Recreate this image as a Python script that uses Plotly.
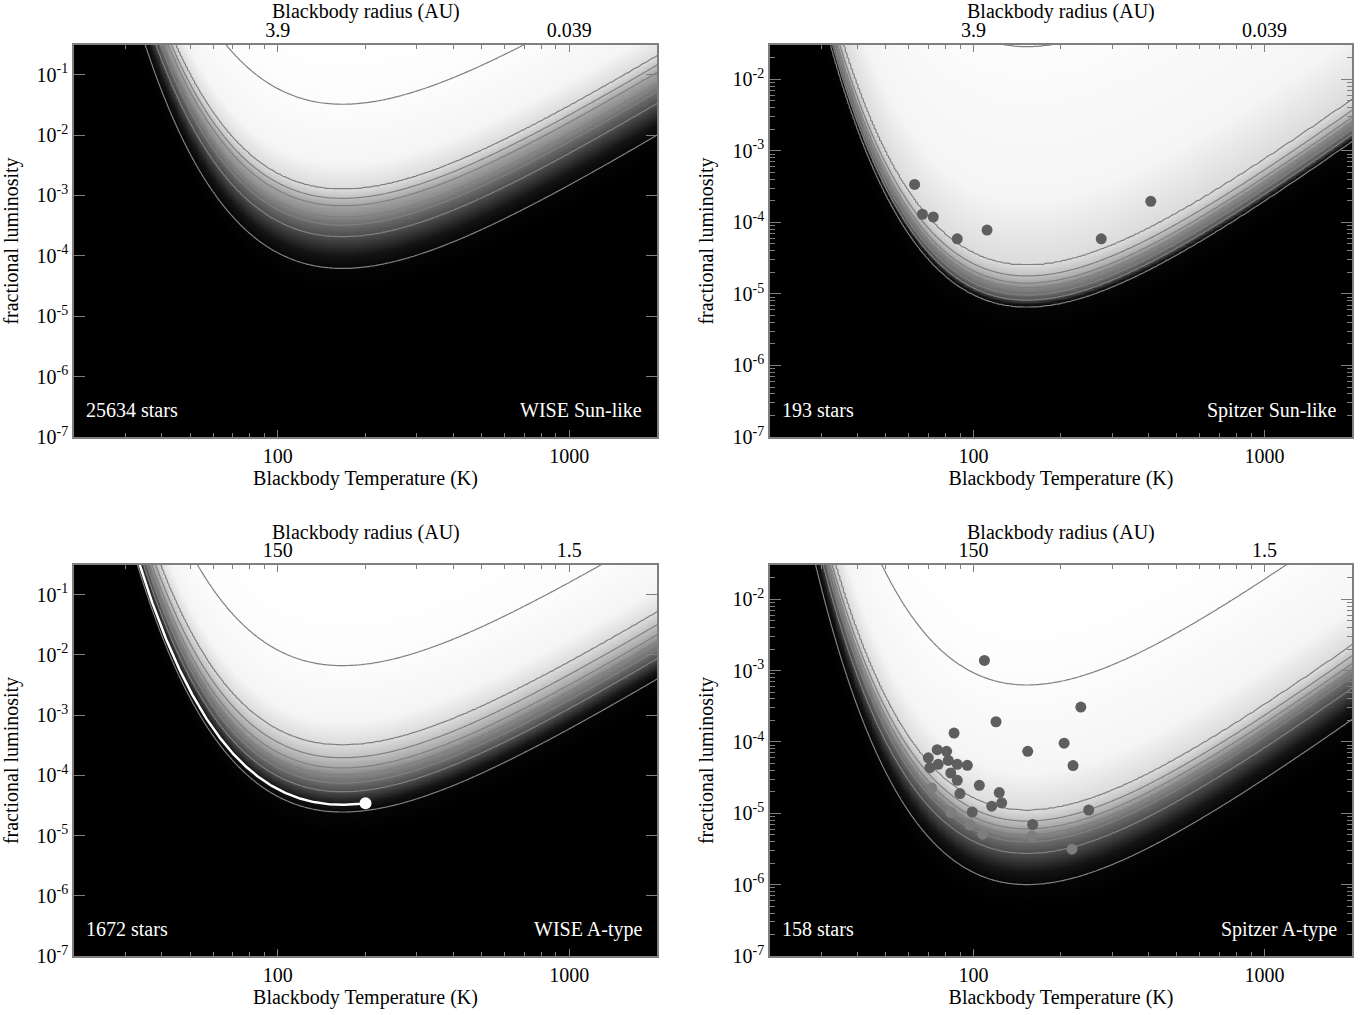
import numpy as np
import plotly.graph_objects as go

# ---------------- data ----------------
panel_titles = ['WISE Sun-like', 'Spitzer Sun-like', 'WISE A-type', 'Spitzer A-type']
star_counts = [25634, 193, 1672, 158]
radius_ticktext = [['3.9', '0.039'], ['3.9', '0.039'], ['150', '1.5'], ['150', '1.5']]
temp_tick_vals = [100, 1000]
temp_tick_text = ['100', '1000']
temp_range_K = [20, 2000]
logf_top = [-0.51, -1.52, -0.51, -1.52]
logf_bottom = -7.0

# temperature (K) at the minimum of the sensitivity curves of each panel
curve_min_T = [167, 153, 167, 153]

# common shape of the sensitivity curves: decades above the minimum,
# as a function of log10(T / T_min)
shape_logr = [-1.0, -0.9, -0.8, -0.75, -0.7, -0.65, -0.6, -0.55, -0.5, -0.45, -0.4,
              -0.35, -0.3, -0.2, -0.1, 0.0, 0.1, 0.2, 0.3, 0.4, 0.5, 0.6, 0.7, 0.8,
              0.9, 1.0, 1.1, 1.2]
shape_dex = [11.333, 8.231, 5.850, 4.881, 4.040, 3.312, 2.685, 2.147, 1.690, 1.305, 0.983,
             0.718, 0.503, 0.204, 0.046, 0.000, 0.039, 0.142, 0.294, 0.481, 0.696, 0.931,
             1.180, 1.441, 1.711, 1.987, 2.269, 2.554]

# log10 fractional luminosity at the minimum of each contour line (low -> high)
contour_min_wise_sun = [-4.21, -3.68, -3.49, -3.36, -3.17, -3.05, -2.90, -1.49]
contour_min_spitzer_sun = [-5.18, -5.085, -5.015, -4.91, -4.85, -4.75, -4.60, -1.54]
contour_min_wise_a = [-4.61, -4.27, -4.13, -3.99, -3.88, -3.71, -3.50, -2.18]
contour_min_spitzer_a = [-6.00, -5.56, -5.40, -5.30, -5.22, -5.11, -4.96, -3.20]
contour_minima = [contour_min_wise_sun, contour_min_spitzer_sun,
                  contour_min_wise_a, contour_min_spitzer_a]

# grey level of the background at each contour line (index -1 .. 8)
grey_index = [-1, 0, 0.4, 1, 2, 3, 4, 5, 6, 6.3, 7, 8]
grey_level = [0.0, 0.02, 0.08, 0.30, 0.42, 0.53, 0.64, 0.75, 0.86, 0.96, 0.99, 1.0]

# detected discs, Spitzer Sun-like
sp_sun_T = [62.8, 66.8, 72.8, 88.0, 111.4, 275, 407]
sp_sun_f = [3.4e-4, 1.30e-4, 1.19e-4, 5.9e-5, 7.8e-5, 5.9e-5, 1.97e-4]

# detected discs, Spitzer A-type (dark markers)
sp_a_T = [109.1, 234, 119.6, 85.8, 205, 153.7, 220, 75.1, 80.9, 70.0, 75.7, 70.9, 82.0,
          88.0, 95.3, 83.6, 88.0, 104.8, 89.9, 122.7, 125.1, 115.6, 99.1, 249, 159.8]
sp_a_f = [1.39e-3, 3.08e-4, 1.92e-4, 1.33e-4, 9.6e-5, 7.4e-5, 4.66e-5, 7.8e-5, 7.4e-5,
          6.0e-5, 4.86e-5, 4.36e-5, 5.5e-5, 4.86e-5, 4.7e-5, 3.67e-5, 2.9e-5, 2.47e-5,
          1.89e-5, 1.95e-5, 1.40e-5, 1.26e-5, 1.04e-5, 1.11e-5, 6.97e-6]
# Spitzer A-type (light markers)
sp_a_light_T = [71.9, 83.6, 97.3, 107.6, 159, 218]
sp_a_light_f = [2.26e-5, 1.03e-5, 6.9e-6, 5.1e-6, 4.8e-6, 3.14e-6]

# single-star sensitivity curve in the WISE A-type panel
white_curve_min_logf = -4.49
white_curve_end_T = 200

# ---------------- styling ----------------
FONT = 'Liberation Serif'
AXC = '#7f7f7f'
LINEC = '#808080'
xdom = [[0, 0.4562], [0.5446, 1], [0, 0.4562], [0.5446, 1]]
ydom = [[0.5697, 1], [0.5697, 1], [0, 0.4292], [0, 0.4292]]
radius_title_y = [1.0373, 1.0373, 0.4654, 0.4654]
y_minor = [False, True, False, True]


def natural_cubic(xk, yk, xq):
    xk = np.asarray(xk, float)
    yk = np.asarray(yk, float)
    n = len(xk)
    h = np.diff(xk)
    A = np.zeros((n, n))
    rhs = np.zeros(n)
    A[0, 0] = 1
    A[-1, -1] = 1
    for i in range(1, n - 1):
        A[i, i - 1] = h[i - 1]
        A[i, i] = 2 * (h[i - 1] + h[i])
        A[i, i + 1] = h[i]
        rhs[i] = 6 * ((yk[i + 1] - yk[i]) / h[i] - (yk[i] - yk[i - 1]) / h[i - 1])
    M = np.linalg.solve(A, rhs)
    xq = np.clip(np.asarray(xq, float), xk[0], xk[-1])
    idx = np.clip(np.searchsorted(xk, xq) - 1, 0, n - 2)
    x0 = xk[idx]
    x1 = xk[idx + 1]
    hh = x1 - x0
    t0 = x1 - xq
    t1 = xq - x0
    return (M[idx] * t0 ** 3 / (6 * hh) + M[idx + 1] * t1 ** 3 / (6 * hh)
            + (yk[idx] / hh - M[idx] * hh / 6) * t0
            + (yk[idx + 1] / hh - M[idx + 1] * hh / 6) * t1)


def grey_hex(v):
    c = int(round(255 * v))
    return '#%02x%02x%02x' % (c, c, c)


zmin, zmax = grey_index[0], grey_index[-1]
colorscale = [[(gi - zmin) / (zmax - zmin), grey_hex(gv)] for gi, gv in zip(grey_index, grey_level)]

fig = go.Figure()
layout = {}

logT_grid = np.linspace(np.log10(temp_range_K[0]) - 0.02, np.log10(temp_range_K[1]) + 0.02, 330)
x_minor_vals = [v * 10 ** e for e in (1, 2, 3) for v in range(2, 10) if 20 <= v * 10 ** e <= 2000]

for i in range(4):
    sx = '' if i == 0 else str(i + 1)
    levels = contour_minima[i]
    logf_grid = np.linspace(logf_bottom - 0.05, logf_top[i] + 0.05, 300)
    shape = natural_cubic(shape_logr, shape_dex, logT_grid - np.log10(curve_min_T[i]))
    u = logf_grid[:, None] - shape[None, :]
    knots_u = [levels[0] - 0.35] + list(levels) + [levels[-1] + 1.2]
    knots_z = list(range(-1, len(levels) + 1))
    z = np.round(np.interp(u, knots_u, knots_z), 3)

    fig.add_trace(go.Contour(
        x=10 ** logT_grid, y=10 ** logf_grid, z=z,
        xaxis='x' + sx, yaxis='y' + sx,
        autocontour=False,
        contours=dict(start=0, end=len(levels) - 1, size=1, coloring='heatmap', showlines=True),
        line=dict(color=LINEC, width=1.2, smoothing=1),
        colorscale=colorscale, zmin=zmin, zmax=zmax, showscale=False,
        hoverinfo='skip'))

    # top axis (blackbody radius) – invisible helper trace
    fig.add_trace(go.Scatter(x=[100], y=[1e-4], xaxis='x' + str(i + 5), yaxis='y' + sx,
                             mode='markers', marker=dict(opacity=0), hoverinfo='skip',
                             showlegend=False))

    ytv = [10.0 ** e for e in range(-7, 0) if e <= logf_top[i]]
    ytt = ['10<sup>%d</sup>' % e for e in range(-7, 0) if e <= logf_top[i]]
    yminor = dict(ticks='')
    if y_minor[i]:
        yminor = dict(tickmode='array',
                      tickvals=[k * 10.0 ** e for e in range(-7, 0) for k in range(2, 10)
                                if np.log10(k * 10.0 ** e) <= logf_top[i]],
                      ticks='inside', ticklen=5, tickcolor=AXC, tickwidth=1.2)

    layout['xaxis' + sx] = dict(
        type='log', domain=xdom[i], anchor='y' + sx, automargin=False,
        range=[np.log10(temp_range_K[0]), np.log10(temp_range_K[1])],
        tickmode='array', tickvals=temp_tick_vals, ticktext=temp_tick_text,
        ticks='inside', ticklen=7, tickcolor=AXC, tickwidth=1.3,
        minor=dict(tickmode='array', tickvals=x_minor_vals, ticks='inside', ticklen=4,
                   tickcolor=AXC, tickwidth=1.2),
        showline=True, linecolor=AXC, linewidth=1.5, mirror='ticks',
        showgrid=False, zeroline=False,
        tickfont=dict(family=FONT, size=20, color='black'),
        title=dict(text='Blackbody Temperature (K)', font=dict(family=FONT, size=20, color='black'),
                   standoff=3))
    layout['yaxis' + sx] = dict(
        type='log', domain=ydom[i], anchor='x' + sx, automargin=False,
        range=[logf_bottom, logf_top[i]],
        tickmode='array', tickvals=ytv, ticktext=ytt,
        ticks='inside', ticklen=11, tickcolor=AXC, tickwidth=1.3,
        minor=yminor,
        showline=True, linecolor=AXC, linewidth=1.5, mirror='ticks',
        showgrid=False, zeroline=False,
        tickfont=dict(family=FONT, size=20, color='black'),
        title=dict(text='fractional luminosity', font=dict(family=FONT, size=20, color='black'),
                   standoff=14))
    layout['xaxis' + str(i + 5)] = dict(
        type='log', overlaying='x' + sx, side='top', anchor='y' + sx, automargin=False,
        range=[np.log10(temp_range_K[0]), np.log10(temp_range_K[1])],
        tickmode='array', tickvals=temp_tick_vals, ticktext=radius_ticktext[i],
        ticks='', showline=False, showgrid=False, zeroline=False, ticklabelstandoff=3,
        tickfont=dict(family=FONT, size=20, color='black'))

# white single-star curve + dot (WISE A-type)
T_white = np.logspace(np.log10(temp_range_K[0]), np.log10(white_curve_end_T), 250)
s_white = natural_cubic(shape_logr, shape_dex, np.log10(T_white) - np.log10(curve_min_T[2]))
f_white = 10 ** (white_curve_min_logf + s_white)
fig.add_trace(go.Scatter(x=T_white, y=f_white, xaxis='x3', yaxis='y3', mode='lines',
                         line=dict(color='white', width=2.5), hoverinfo='skip', showlegend=False))
fig.add_trace(go.Scatter(x=[T_white[-1]], y=[f_white[-1]], xaxis='x3', yaxis='y3', mode='markers',
                         marker=dict(color='white', size=12), hoverinfo='skip', showlegend=False))

# detections
fig.add_trace(go.Scatter(x=sp_sun_T, y=sp_sun_f, xaxis='x2', yaxis='y2', mode='markers',
                         marker=dict(color='#5e5e5e', size=11), hoverinfo='skip', showlegend=False))
fig.add_trace(go.Scatter(x=sp_a_T, y=sp_a_f, xaxis='x4', yaxis='y4', mode='markers',
                         marker=dict(color='#5e5e5e', size=11), hoverinfo='skip', showlegend=False))
fig.add_trace(go.Scatter(x=sp_a_light_T, y=sp_a_light_f, xaxis='x4', yaxis='y4', mode='markers',
                         marker=dict(color='#7d7d7d', size=11), hoverinfo='skip', showlegend=False))

annotations = []
for i in range(4):
    sx = '' if i == 0 else str(i + 1)
    annotations.append(dict(text='%d stars' % star_counts[i], xref='x%s domain' % sx,
                            yref='y%s domain' % sx, x=0.018, y=0.068, xanchor='left',
                            yanchor='middle', showarrow=False,
                            font=dict(family=FONT, size=20, color='white')))
    annotations.append(dict(text=panel_titles[i], xref='x%s domain' % sx,
                            yref='y%s domain' % sx, x=0.978, y=0.068, xanchor='right',
                            yanchor='middle', showarrow=False,
                            font=dict(family=FONT, size=20, color='white')))
    annotations.append(dict(text='Blackbody radius (AU)', xref='x%s domain' % sx,
                            yref='paper', x=0.5, y=radius_title_y[i], xanchor='center',
                            yanchor='middle', showarrow=False,
                            font=dict(family=FONT, size=20, color='black')))

fig.update_layout(
    width=1361, height=1015,
    margin=dict(l=74, r=9, t=45, b=59, autoexpand=False),
    paper_bgcolor='white', plot_bgcolor='black',
    showlegend=False, hovermode=False,
    font=dict(family=FONT, size=20, color='black'),
    annotations=annotations,
    **layout)

# remove the default page margin so the figure fills the window exactly
fig.write_html('out.html', config={'displayModeBar': False},
               post_script="document.body.style.margin='0';document.body.style.overflow='hidden';")
